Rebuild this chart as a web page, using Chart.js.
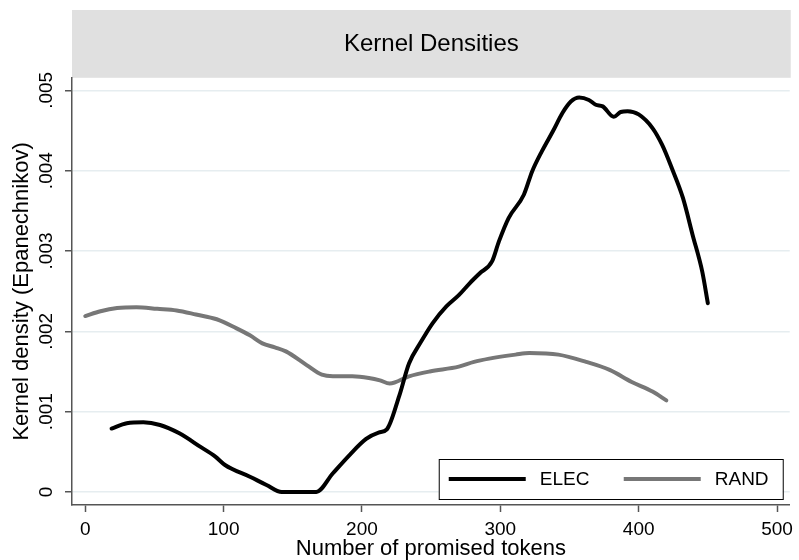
<!DOCTYPE html>
<html>
<head>
<meta charset="utf-8">
<script src="https://cdn.jsdelivr.net/npm/chart.js@4/dist/chart.umd.min.js"></script>
<style>
  body { margin: 0; background: #ffffff; }
  #wrap { width: 799px; height: 560px; }
</style>
</head>
<body>
<div id="wrap"><canvas id="kdChart" width="799" height="560"></canvas></div>
<script>
// kernel density estimates
var elecX = [19, 30, 42, 54, 68, 83, 94, 101, 119, 131, 142, 155, 167, 179, 191, 203, 212, 218,
             227, 234, 242, 251, 261, 270, 278, 285, 294, 299, 306, 317, 323, 330, 338, 345,
             351, 357, 364, 369, 374, 382, 387, 392, 400, 410, 417, 424, 432, 439, 446, 450];
var elecY = [0.00079, 0.000855, 0.000868, 0.000834, 0.00073, 0.000564, 0.00044, 0.000336, 0.00019, 0.000087,
             0, 0, 0, 0.000233, 0.00046, 0.00066, 0.00074, 0.00078,
             0.0012, 0.0016, 0.00185, 0.0021, 0.00231, 0.00245, 0.0026, 0.00272, 0.00287, 0.00312, 0.00341,
             0.0037, 0.00399, 0.00424, 0.00449, 0.00472, 0.00486, 0.00491, 0.00488, 0.00482, 0.0048,
             0.00467, 0.00473, 0.00474, 0.0047, 0.00453, 0.00432, 0.00403, 0.00366, 0.0032, 0.00274, 0.00235];

var randX = [0, 11, 23, 37, 52, 66, 80, 95, 109, 119, 128, 137, 145, 160, 171, 179, 193, 205, 213, 220,
             234, 249, 270, 281, 292, 311, 321, 342, 362, 379, 395, 410, 420];
var randY = [0.00219, 0.00225, 0.00229, 0.0023, 0.00228, 0.00226, 0.00221, 0.00215, 0.00204, 0.00195,
             0.00185, 0.0018, 0.00175, 0.00158, 0.00146, 0.00144, 0.00144, 0.00142, 0.00139, 0.00135,
             0.00144, 0.0015, 0.00156, 0.00162, 0.00166, 0.00171, 0.00173, 0.00171, 0.00162, 0.00152,
             0.00137, 0.00125, 0.00114];

var seriesNames = ['ELEC', 'RAND'];
var xTickValues = [0, 100, 200, 300, 400, 500];
var yTickValues = [0, 0.001, 0.002, 0.003, 0.004, 0.005];
var yTickLabels = ['0', '.001', '.002', '.003', '.004', '.005'];

function toPoints(xs, ys) {
    return xs.map(function (x, i) { return { x: x, y: ys[i] }; });
}

var FONT = '"Liberation Sans", Arial, Helvetica, sans-serif';
var AXIS = '#555555';

// grey band behind the title, same width as the plot
var titleBand = {
    id: 'titleBand',
    afterLayout: function (chart) {
        var tb = chart.titleBlock;
        tb.left = chart.chartArea.left;
        tb.right = chart.chartArea.right + 1;
    },
    beforeDraw: function (chart) {
        var ctx = chart.ctx, tb = chart.titleBlock, ca = chart.chartArea;
        ctx.save();
        ctx.fillStyle = '#ffffff';
        ctx.fillRect(0, 0, chart.width, chart.height);
        ctx.fillStyle = '#e0e0e0';
        ctx.fillRect(ca.left, tb.top, ca.right - ca.left + 1, tb.bottom - tb.top);
        ctx.restore();
    }
};

// boxed legend inside the plot, bottom right
var boxLegend = {
    id: 'boxLegend',
    afterDraw: function (chart) {
        var ctx = chart.ctx, ca = chart.chartArea;
        var w = 344, h = 40;
        var right = ca.right - 7, bottom = ca.bottom - 6;
        var left = right - w, top = bottom - h;
        var midY = top + h / 2;
        ctx.save();
        ctx.fillStyle = '#ffffff';
        ctx.fillRect(left, top, w, h);
        ctx.strokeStyle = '#000000';
        ctx.lineWidth = 1;
        ctx.strokeRect(left + 0.5, top + 0.5, w, h);
        ctx.font = '19px ' + FONT;
        ctx.textBaseline = 'middle';
        ctx.textAlign = 'left';
        chart.data.datasets.forEach(function (ds, i) {
            var x0 = left + 10 + i * 175;
            ctx.strokeStyle = ds.borderColor;
            ctx.lineWidth = 4;
            ctx.beginPath();
            ctx.moveTo(x0, midY);
            ctx.lineTo(x0 + 77, midY);
            ctx.stroke();
            ctx.fillStyle = '#000000';
            ctx.fillText(ds.label, x0 + 91, midY + 1);
        });
        ctx.restore();
    }
};

var ctx = document.getElementById('kdChart').getContext('2d');
var kdChart = new Chart(ctx, {
    type: 'line',
    data: {
        datasets: [{
            label: seriesNames[0],
            data: toPoints(elecX, elecY),
            borderColor: '#000000',
            borderWidth: 4,
            cubicInterpolationMode: 'monotone',
            borderCapStyle: 'round',
            borderJoinStyle: 'round',
            pointRadius: 0,
            fill: false
        }, {
            label: seriesNames[1],
            data: toPoints(randX, randY),
            borderColor: '#777777',
            borderWidth: 4,
            cubicInterpolationMode: 'monotone',
            borderCapStyle: 'round',
            borderJoinStyle: 'round',
            pointRadius: 0,
            fill: false
        }]
    },
    options: {
        responsive: false,
        animation: false,
        devicePixelRatio: 1,
        layout: { padding: { top: 10, right: 8, bottom: 0, left: 0 } },
        plugins: {
            legend: { display: false },
            tooltip: { enabled: false },
            title: {
                display: true,
                text: 'Kernel Densities',
                color: '#000000',
                font: { family: FONT, size: 24, weight: 'normal', lineHeight: 1.2 },
                padding: { top: 20, bottom: 19 }
            }
        },
        scales: {
            x: {
                type: 'linear',
                min: -9.6,
                max: 509.2,
                afterBuildTicks: function (scale) {
                    scale.ticks = xTickValues.map(function (v) { return { value: v }; });
                },
                afterFit: function (scale) { scale.height = 55; },
                grid: {
                    drawOnChartArea: false,
                    drawTicks: true,
                    tickLength: 7,
                    tickColor: AXIS,
                    tickWidth: 1.5
                },
                border: { display: true, color: AXIS, width: 1.5 },
                ticks: {
                    color: '#000000',
                    font: { family: FONT, size: 19 },
                    padding: 6,
                    maxRotation: 0,
                    autoSkip: false
                },
                title: {
                    display: true,
                    text: 'Number of promised tokens',
                    color: '#000000',
                    font: { family: FONT, size: 22, lineHeight: 1 },
                    padding: { top: 0, bottom: 0 }
                }
            },
            y: {
                type: 'linear',
                min: -0.000162,
                max: 0.0051557,
                afterBuildTicks: function (scale) {
                    scale.ticks = yTickValues.map(function (v) { return { value: v }; });
                },
                afterFit: function (scale) { scale.width = 72; },
                grid: {
                    color: '#e6edf0',
                    lineWidth: 1.5,
                    drawTicks: true,
                    tickLength: 7,
                    tickColor: AXIS,
                    tickWidth: 1.5
                },
                border: { display: true, color: AXIS, width: 1.5 },
                ticks: {
                    color: '#000000',
                    font: { family: FONT, size: 19 },
                    minRotation: 90,
                    maxRotation: 90,
                    crossAlign: 'center',
                    padding: 0,
                    autoSkip: false,
                    callback: function (value, index) { return yTickLabels[index]; }
                },
                title: {
                    display: true,
                    text: 'Kernel density (Epanechnikov)',
                    color: '#000000',
                    font: { family: FONT, size: 22, lineHeight: 1.2 },
                    padding: { top: 9, bottom: 0 }
                }
            }
        }
    },
    plugins: [titleBand, boxLegend]
});
</script>
</body>
</html>
